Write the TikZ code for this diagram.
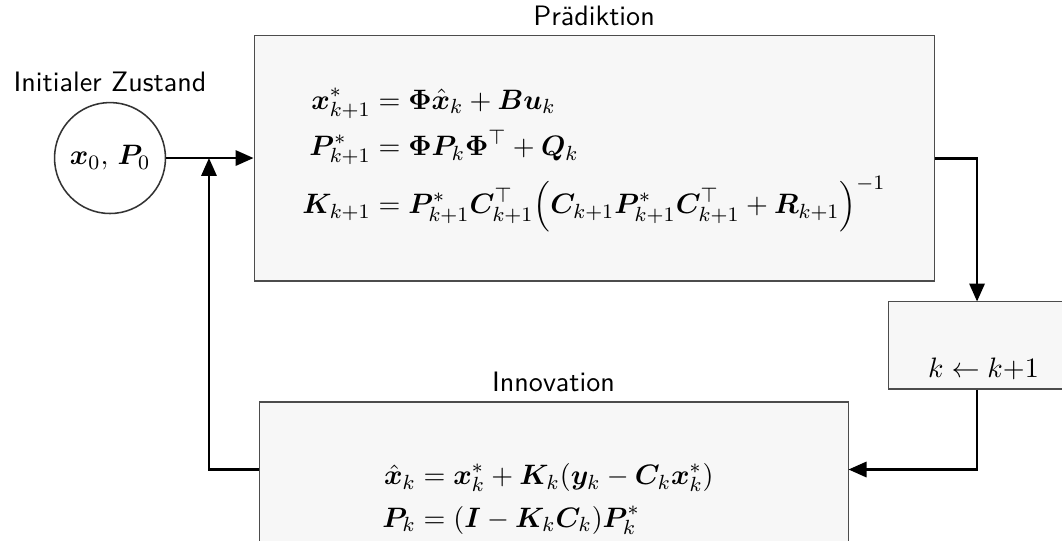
\documentclass[tikz,border=0pt,11pt]{standalone}
\usepackage{amsmath,bm}
\usetikzlibrary{arrows.meta,positioning}
\tikzset{
  blk/.style={rectangle,draw=black!70,fill=black!3,inner sep=0pt},
  arr/.style={-{Triangle[length=7pt,width=6pt]},thick},
  ttl/.style={font=\sffamily},
}

\begin{document}
\begin{tikzpicture}
  \useasboundingbox (0,0) rectangle (14.549,7.398);

  \node[circle,draw=black!80,line width=0.6pt,minimum size=1.52cm,inner sep=0pt] (init)
    at (1.507,5.233) {$\bm{x}_0,\,\bm{P}_0$};
  \node[ttl,above=0pt of init] (tInit) {Initialer Zustand};

  % Praediktion
  \node[blk,minimum width=9.316cm,minimum height=3.357cm] (pred)
    at (8.138,5.227) {};
  \node (eqP) at (pred) {$\begin{aligned}
    \bm{x}^*_{k+1} &= \bm{\Phi}\hat{\bm{x}}_k + \bm{B}\bm{u}_k\\
    \bm{P}^*_{k+1} &= \bm{\Phi}\bm{P}_k\bm{\Phi}^\top + \bm{Q}_k\\
    \bm{K}_{k+1} &= \bm{P}^*_{k+1}\bm{C}^\top_{k+1}\Bigl(\bm{C}_{k+1}\bm{P}^*_{k+1}\bm{C}^\top_{k+1}+\bm{R}_{k+1}\Bigr)^{-1}
  \end{aligned}$};
  \node[ttl,above=0pt of pred] (tPred) {Prädiktion};

  \node[blk,minimum width=2.617cm,minimum height=1.192cm,
    text height=1.041cm,text depth=0.151cm] (kbox)
    at (13.474,2.665) {$k \leftarrow k{+}1$};

  % Innovation
  \node[blk,minimum width=8.069cm,minimum height=2.658cm] (inno)
    at (7.583,0.562) {};
  \node (eqI) at (7.508,0.562) {$\begin{aligned}
    \hat{\bm{x}}_k &= \bm{x}^*_k + \bm{K}_k(\bm{y}_k - \bm{C}_k\bm{x}^*_k)\\
    \bm{P}_k &= (\bm{I} - \bm{K}_k\bm{C}_k)\bm{P}^*_k
  \end{aligned}$};
  \node[ttl,above=0pt of inno] (tInno) {Innovation};

  \coordinate (kIn) at ([xshift=-0.089cm]kbox.north);
  \coordinate (kOut) at ([xshift=-0.089cm]kbox.south);
  \coordinate (innoE) at ([yshift=-0.932cm]inno.north east);
  \coordinate (innoW) at ([yshift=-0.932cm]inno.north west);
  \coordinate (jn) at (2.863,0 |- init.east);

  \draw[arr] (init.east) -- (init.east -| pred.west);
  \draw[arr] (pred.east) -| (kIn);
  \draw[arr] (kOut) |- (innoE);
  \draw[arr] (innoW) -| (jn);
\end{tikzpicture}
\end{document}
